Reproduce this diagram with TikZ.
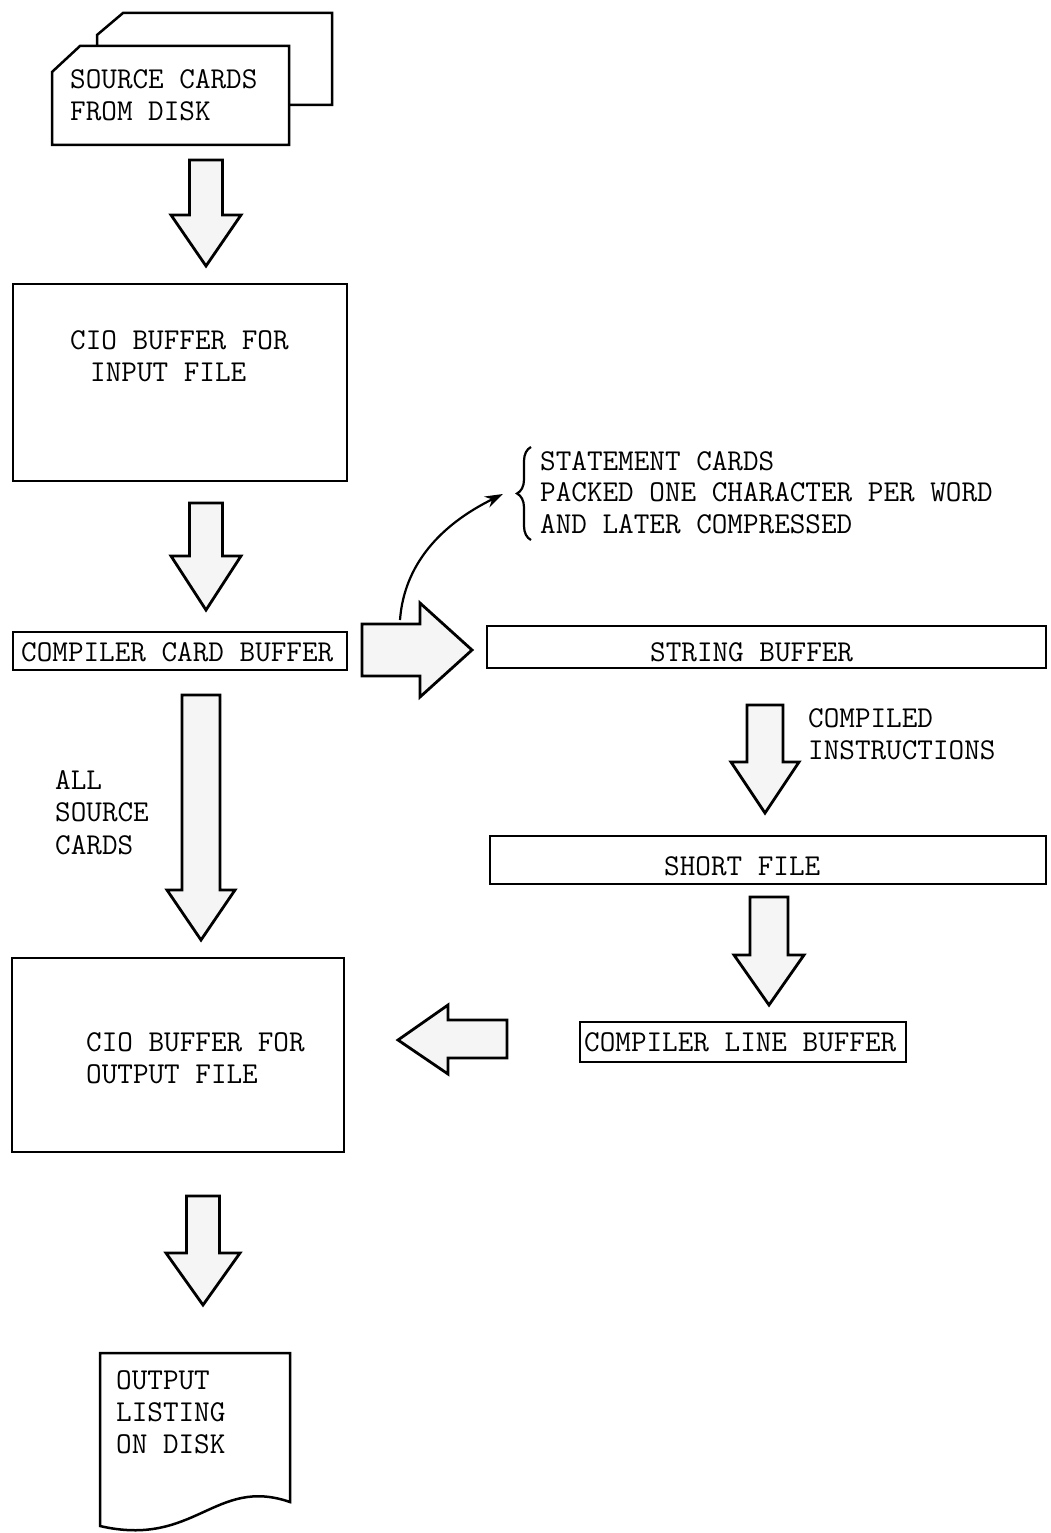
\documentclass[tikz,border=0pt]{standalone}
\usepackage{fontspec}
\usetikzlibrary{decorations.pathreplacing,arrows.meta}
\newcommand\vblk[6]{\draw[barrow] (#1-#5,#2) -- (#1+#5,#2) -- (#1+#5,#3) -- (#1+#6,#3) -- (#1,#4) -- (#1-#6,#3) -- (#1-#5,#3) -- cycle;}
\begin{document}
\begin{tikzpicture}[x=1pt,y=-1pt,
  lbl/.style={anchor=west,inner sep=0pt,font=\ttfamily\fontsize{30.3}{32}\selectfont},
  box/.style={draw,line width=2.5pt,inner sep=0pt,fill=white},
  barrow/.style={draw,line width=2.8pt,fill=gray!8,line join=miter},
  thinl/.style={line width=2.2pt}]
\useasboundingbox (0,0) rectangle (1050,1533);
\fill[white] (0,0) rectangle (1050,1533);

% source cards
\draw[line width=2.5pt,fill=white] (97,46) -- (97,35) -- (123,13) -- (332,13) -- (332,105) -- (289,105);
\draw[line width=2.5pt,fill=white] (52,72) -- (80,46) -- (289,46) -- (289,145) -- (52,145) -- cycle;
\node[lbl] (src1) at (70,79) {SOURCE CARDS};
\node[lbl] (src2) at (70,111) {FROM DISK};

% arrow to input buffer
\vblk{206}{160}{215}{266}{16.5}{35}

% CIO input buffer
\node[box,minimum width=334pt,minimum height=197pt] (cioin) at (180,382.5) {};
\node[lbl] (cioin1) at (70,340) {CIO BUFFER FOR};
\node[lbl] (cioin2) at (90,372) {INPUT FILE};

\vblk{206}{503}{556}{610}{16.5}{35}

% compiler card buffer
\node[box,minimum width=334pt,minimum height=38pt] (ccb) at (180,651) {};
\node[lbl] (ccbt) at (21,652) {COMPILER CARD BUFFER};

% right block arrow
\draw[barrow] (362,624) -- (420,624) -- (420,603) -- (472,650) -- (420,697) -- (420,676) -- (362,676) -- cycle;
\coordinate (cstart) at (400,620);

% string buffer
\node[box,minimum width=559pt,minimum height=42pt] (strbuf) at (766.5,647) {};
\node[lbl] (strbuft) at (650,652) {STRING BUFFER};

% brace and statement text
\draw[thinl,decorate,decoration={brace,amplitude=14pt}] (531,540) -- (531,447);
\coordinate (btip) at (503,494);
\node[lbl] (st1) at (540,461) {STATEMENT CARDS};
\node[lbl] (st2) at (540,492) {PACKED ONE CHARACTER PER WORD};
\node[lbl] (st3) at (540,524) {AND LATER COMPRESSED};
\draw[thinl,-{Stealth[length=18pt,width=12pt]}] (cstart) .. controls (404,565) and (440,525) .. (btip);

% compiled instructions
\vblk{765}{705}{762}{813}{18}{34}
\node[lbl] (ci1) at (808,718) {COMPILED};
\node[lbl] (ci2) at (808,750) {INSTRUCTIONS};

% short file
\node[box,minimum width=556pt,minimum height=48pt] (short) at (768,860) {};
\node[lbl] (shortt) at (664,866) {SHORT FILE};

\vblk{769}{897}{955}{1005}{19}{35}

% compiler line buffer
\node[box,minimum width=326pt,minimum height=40pt] (clb) at (743,1042) {};
\node[lbl] (clbt) at (584,1042) {COMPILER LINE BUFFER};

% left block arrow
\draw[barrow] (507,1020) -- (448,1020) -- (448,1005) -- (398,1040) -- (448,1074) -- (448,1058) -- (507,1058) -- cycle;

% all source cards
\vblk{201}{695}{890}{940}{19}{34}
\node[lbl] (as1) at (55,780) {ALL};
\node[lbl] (as2) at (55,812) {SOURCE};
\node[lbl] (as3) at (55,845) {CARDS};

% CIO output buffer
\node[box,minimum width=332pt,minimum height=194pt] (cioout) at (178,1055) {};
\node[lbl] (cioout1) at (86,1042) {CIO BUFFER FOR};
\node[lbl] (cioout2) at (86,1074) {OUTPUT FILE};

\vblk{203}{1196}{1253}{1305}{16.5}{37}

% output document
\draw[line width=2.5pt,fill=white] (100,1353) -- (290,1353) -- (290,1502)
  .. controls (215,1476) and (195,1548) .. (100,1526) -- cycle;
\node[lbl] (out1) at (116,1380) {OUTPUT};
\node[lbl] (out2) at (116,1412) {LISTING};
\node[lbl] (out3) at (116,1444) {ON DISK};
\end{tikzpicture}
\end{document}
